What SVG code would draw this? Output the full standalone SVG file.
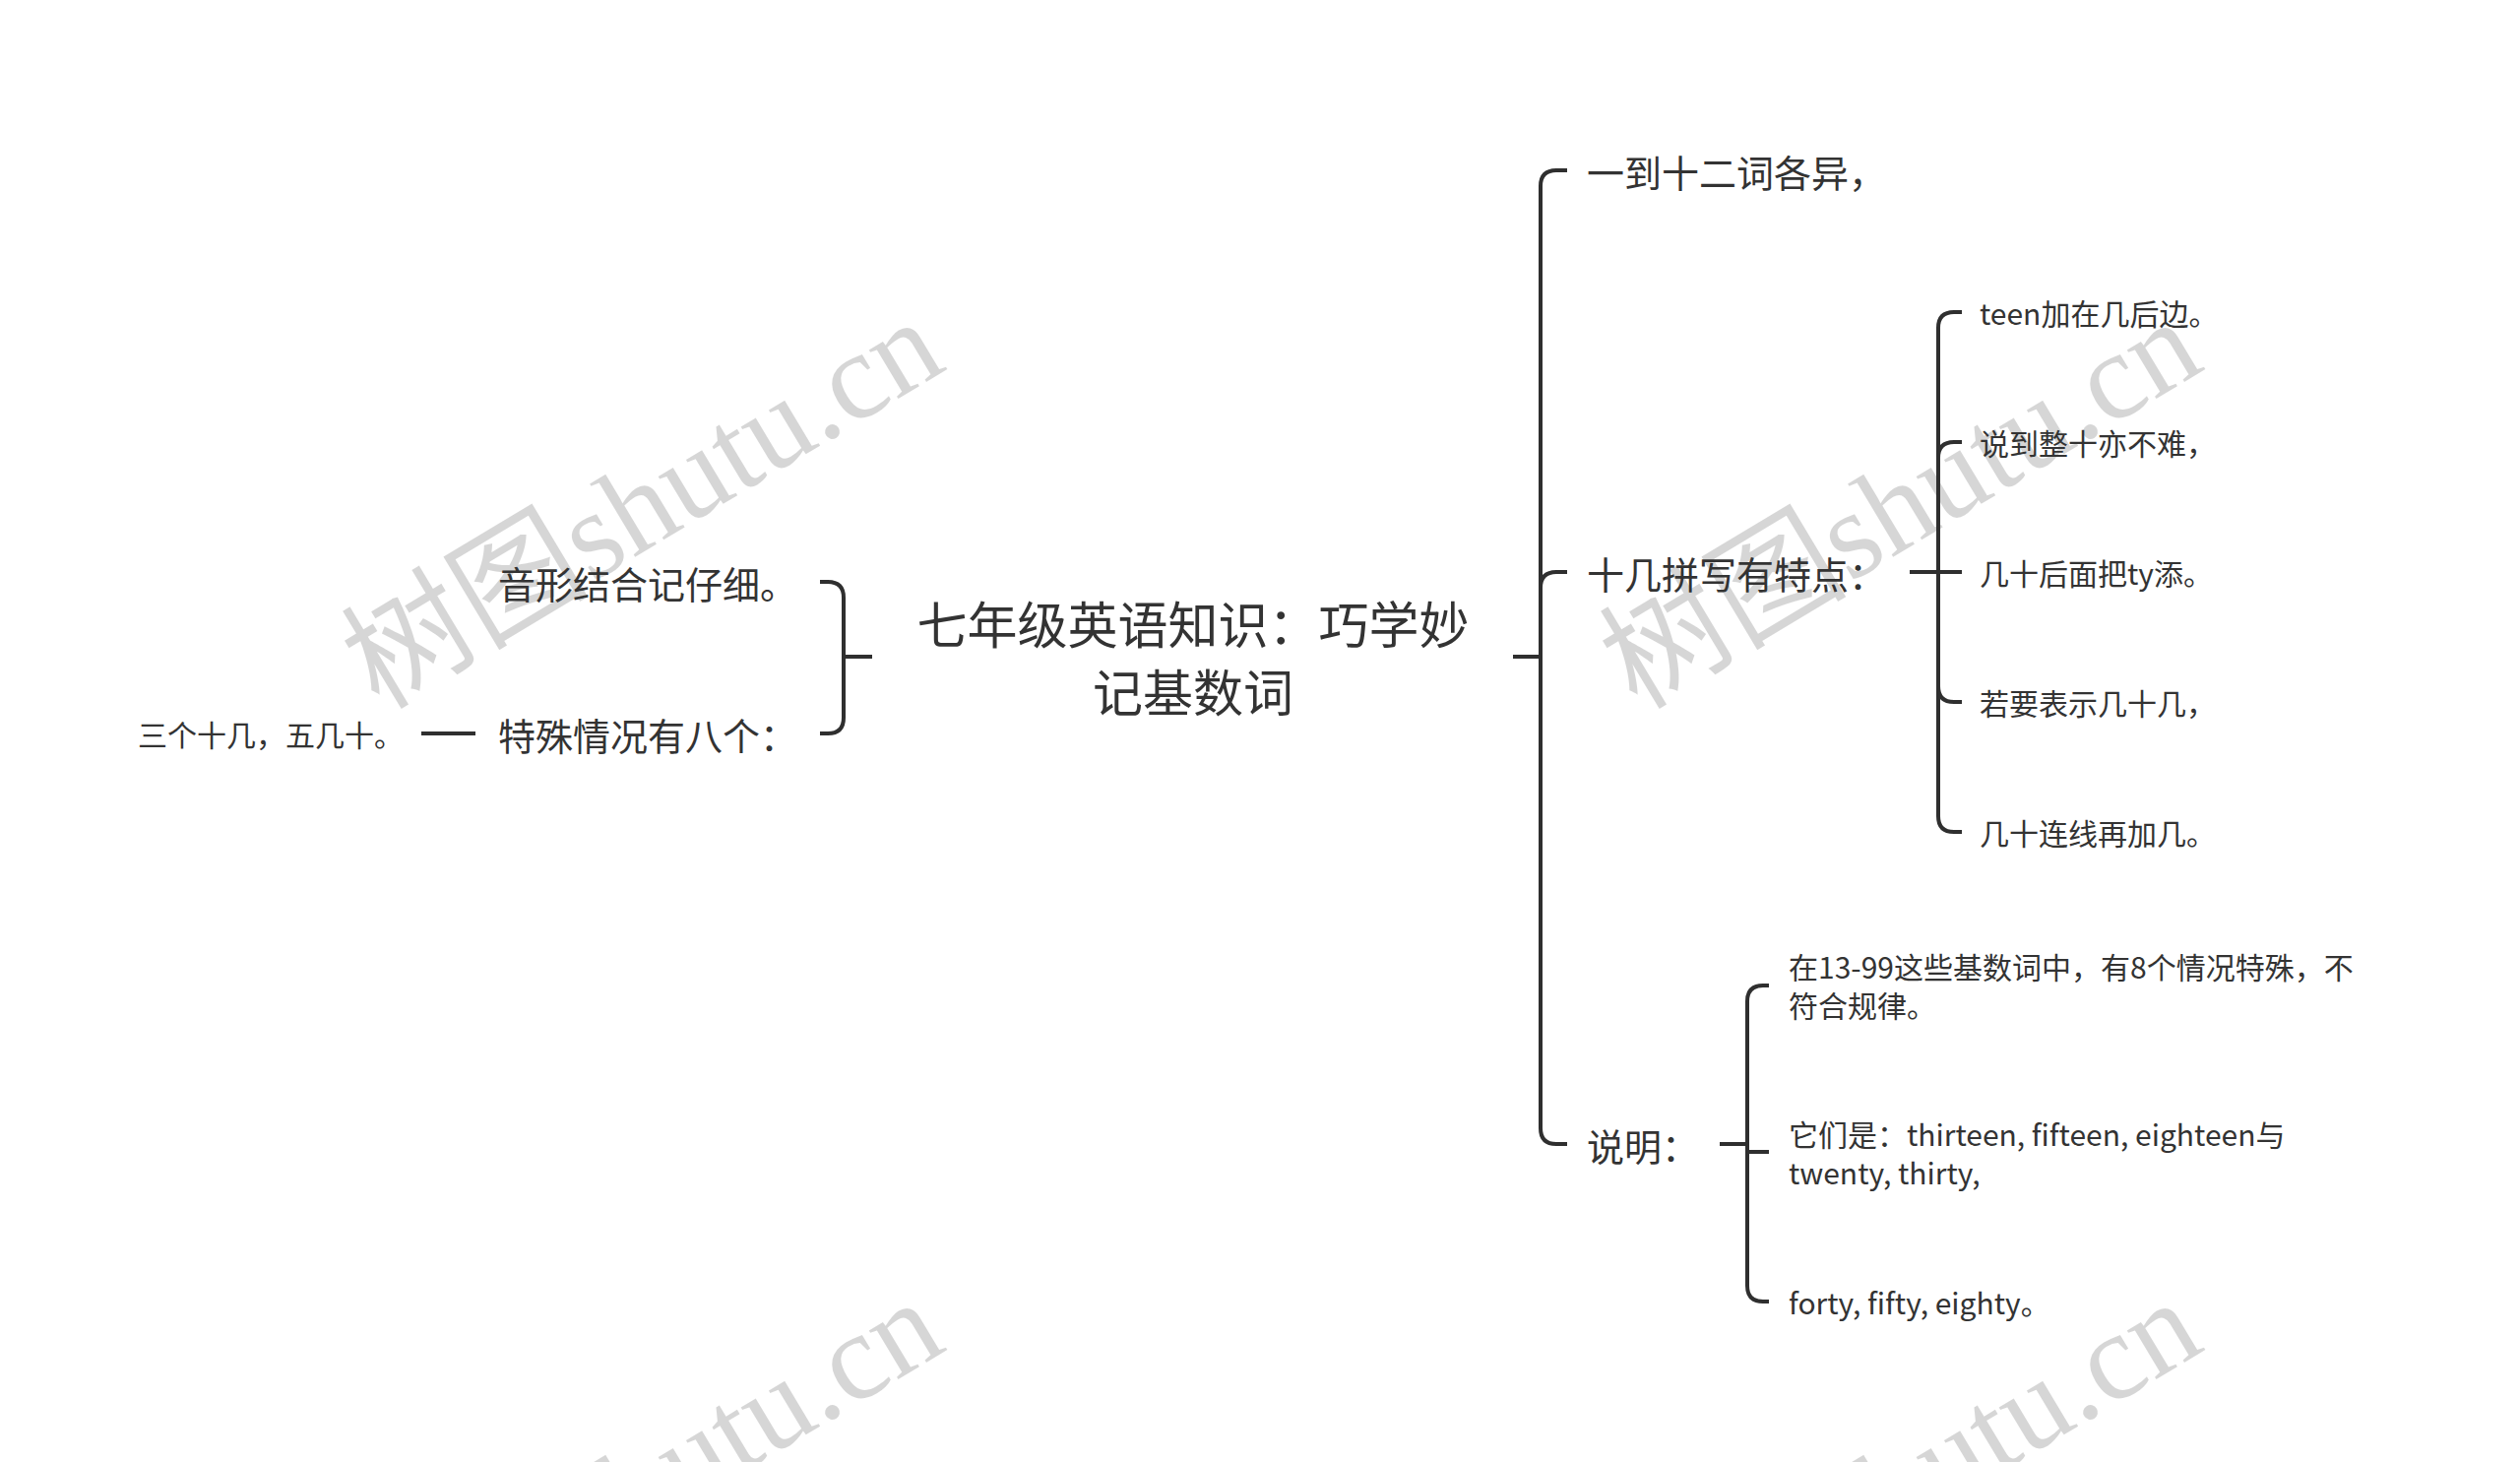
<svg xmlns="http://www.w3.org/2000/svg" width="2560" height="1485" viewBox="0 0 2560 1485">
<style>
.t{font-family:"Noto Sans CJK SC","Open Sans",sans-serif;fill:#333;dominant-baseline:central}
.title{font-size:51px;text-anchor:middle}
.l1{font-size:38px}
.l2{font-size:30px}
.end{text-anchor:end}
.c{fill:none;stroke:#2f2f2f;stroke-width:4;stroke-linecap:butt;stroke-linejoin:round}
.wm{font-family:"Liberation Serif","Noto Sans CJK SC",serif;font-size:126px;fill:#000;fill-opacity:0.16}
</style>
<rect width="2560" height="1485" fill="#fff"/>
<g id="watermarks">
<text class="wm" x="385" y="722" transform="rotate(-31 385 722)">树图shutu.cn</text>
<text class="wm" x="1663" y="722" transform="rotate(-31 1663 722)">树图shutu.cn</text>
<text class="wm" x="385" y="1718" transform="rotate(-31 385 1718)">树图shutu.cn</text>
<text class="wm" x="1663" y="1718" transform="rotate(-31 1663 1718)">树图shutu.cn</text>
</g>
<g id="connectors">
<path class="c" d="M886 667 H857"/>
<path class="c" d="M857 667 V607 Q857 591 841 591 H833"/>
<path class="c" d="M857 667 V729 Q857 745 841 745 H833"/>
<path class="c" d="M483 745 H428"/>
<path class="c" d="M1537 667 H1565"/>
<path class="c" d="M1565 667 V189 Q1565 173 1581 173 H1592"/>
<path class="c" d="M1565 667 V597 Q1565 581 1581 581 H1592"/>
<path class="c" d="M1565 667 V1146 Q1565 1162 1581 1162 H1592"/>
<path class="c" d="M1940 581 H1993"/>
<path class="c" d="M1969 581 V333 Q1969 317 1985 317 H1993"/>
<path class="c" d="M1969 581 V465 Q1969 449 1985 449 H1993"/>
<path class="c" d="M1969 581 V697 Q1969 713 1985 713 H1993"/>
<path class="c" d="M1969 581 V829 Q1969 845 1985 845 H1993"/>
<path class="c" d="M1747 1162 H1775"/>
<path class="c" d="M1775 1162 V1017 Q1775 1001 1791 1001 H1797"/>
<path class="c" d="M1775 1162 V1170 H1797"/>
<path class="c" d="M1775 1162 V1306 Q1775 1322 1791 1322 H1797"/>
</g>
<g id="root"><text class="t title" x="1212" y="632">七年级英语知识：巧学妙</text><text class="t title" x="1212" y="701">记基数词</text></g>
<g id="n-yinxing"><text class="t l1 end" x="810" y="591">音形结合记仔细。</text></g>
<g id="n-teshu"><text class="t l1 end" x="810" y="745">特殊情况有八个：</text></g>
<g id="n-sange"><text class="t l2 end" x="410" y="745">三个十几，五几十。</text></g>
<g id="n-yidao"><text class="t l1" x="1612" y="173">一到十二词各异，</text></g>
<g id="n-shiji"><text class="t l1" x="1612" y="581">十几拼写有特点：</text></g>
<g id="n-shuoming"><text class="t l1" x="1612" y="1162">说明：</text></g>
<g id="n-teen"><text class="t l2" x="2011" y="317">teen加在几后边。</text></g>
<g id="n-zhengshi"><text class="t l2" x="2011" y="449">说到整十亦不难，</text></g>
<g id="n-ty"><text class="t l2" x="2011" y="581">几十后面把ty添。</text></g>
<g id="n-jishiji"><text class="t l2" x="2011" y="713">若要表示几十几，</text></g>
<g id="n-lianxian"><text class="t l2" x="2011" y="845">几十连线再加几。</text></g>
<g id="n-s1"><text class="t l2" x="1817" y="981">在13-99这些基数词中，有8个情况特殊，不</text><text class="t l2" x="1817" y="1020">符合规律。</text></g>
<g id="n-s2"><text class="t l2" x="1817" y="1151">它们是：thirteen, fifteen, eighteen与</text><text class="t l2" x="1817" y="1190">twenty, thirty,</text></g>
<g id="n-s3"><text class="t l2" x="1817" y="1322">forty, fifty, eighty。</text></g>
</svg>
